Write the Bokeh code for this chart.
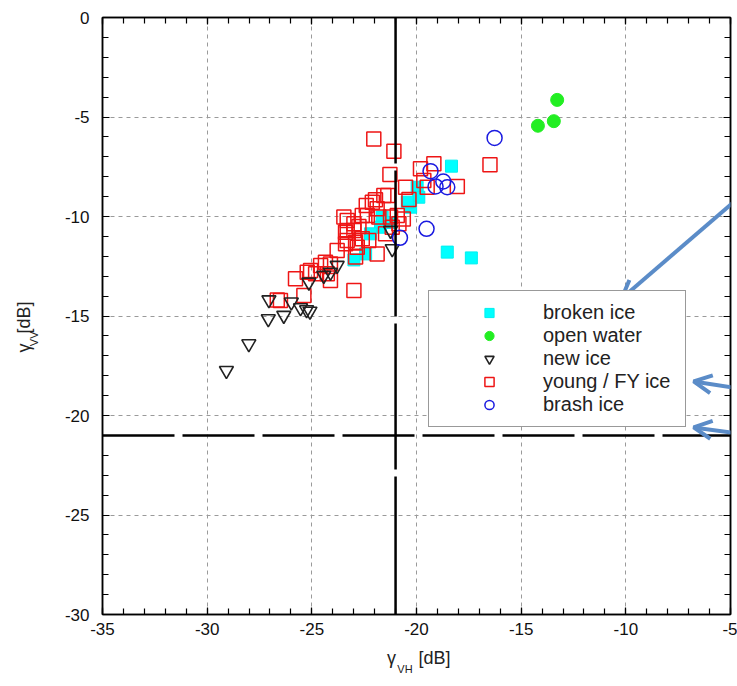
from math import pi
from bokeh.plotting import figure
from bokeh.models import (Range1d, LinearAxis, SingleIntervalTicker, FixedTicker, Legend,
                          LegendItem, Arrow, OpenHead, Span)
from bokeh.embed import file_html
from bokeh.resources import INLINE

# ---------------- data ----------------
broken_x = [-18.33, -18.53, -17.38, -19.97, -19.89, -20.28, -20.44, -21.64, -21.72, -22.20, -22.43, -22.99, -21.30]
broken_y = [-7.47, -11.79, -12.08, -8.53, -9.03, -9.53, -9.28, -10.03, -10.54, -10.87, -11.88, -12.18, -10.30]

water_x = [-13.28, -13.44, -14.20]
water_y = [-4.14, -5.21, -5.44]

new_x = [-29.08, -28.01, -27.08, -26.34, -27.05, -25.98, -25.54, -25.25, -25.09, -25.14,
         -24.43, -24.11, -23.79, -21.16, -21.24]
new_y = [-17.74, -16.40, -15.14, -14.97, -14.19, -14.30, -14.59, -14.69, -14.76, -13.30,
         -12.96, -12.80, -12.46, -11.62, -10.70]

young_x = [-22.04, -21.08, -21.27, -21.56, -21.37, -21.96, -22.11, -22.40, -21.88, -22.35,
           -23.47, -23.31, -22.99, -22.75, -21.24, -20.92, -20.63, -16.49, -19.17, -19.81,
           -19.49, -18.05, -20.52, -20.36, -21.16, -19.65, -21.88, -21.48, -23.39, -21.80,
           -20.84, -23.31, -22.91, -22.59, -22.28, -23.79, -22.91, -24.35, -24.58, -25.06,
           -24.82, -24.11, -25.78, -25.38, -22.99, -26.50, -26.65, -25.22, -23.39, -22.83,
           -24.26, -24.11, -23.31, -22.99, -22.59]
young_y = [-6.10, -6.72, -7.89, -8.94, -8.94, -9.16, -9.28, -9.45, -9.61, -9.95,
           -10.03, -10.20, -10.37, -10.50, -10.03, -9.95, -10.12, -7.40, -7.35, -7.60,
           -8.53, -8.49, -8.53, -9.15, -10.54, -8.19, -11.88, -10.87, -10.79, -10.03,
           -10.37, -11.21, -11.29, -11.12, -11.21, -11.71, -12.04, -12.30, -12.46, -12.71,
           -12.88, -13.22, -13.13, -13.97, -13.72, -14.22, -14.19, -12.80, -11.37, -11.54,
           -12.88, -12.39, -10.70, -10.70, -9.95]

brash_x = [-16.27, -19.33, -19.09, -18.72, -18.53, -19.52, -20.79]
brash_y = [-6.05, -7.72, -8.49, -8.24, -8.53, -10.62, -11.07]

labels = ["broken ice", "open water", "new ice", "young / FY ice", "brash ice"]
threshold_vh = -21
threshold_vv = -21
x_limits = (-35, -5)
y_limits = (-30, 0)
tick_values = list(range(-35, 1, 5))

# axis titles: main symbol, subscript, unit
x_title = ["γ", "VH", "[dB]"]
y_title = ["γ", "VV", "[dB]"]

# slide annotation arrows (tail -> tip), in data units
arrow_tail_x = [-4.66, -4.28, -4.28]
arrow_tail_y = [-9.10, -18.69, -20.95]
arrow_tip_x = [-10.20, -6.76, -6.76]
arrow_tip_y = [-14.12, -18.29, -20.60]

# ---------------- layout ----------------
W, H = 737, 686
LEFT, RIGHT, TOP, BOTTOM = 102, 7, 17, 72
FW, FH = W - LEFT - RIGHT, H - TOP - BOTTOM
FONT = "Liberation Sans"


def px_x(cx):
    return round(x_limits[0] + (cx - LEFT) * (x_limits[1] - x_limits[0]) / FW, 2)


def px_y(cy):
    return round(y_limits[1] - (cy - TOP) * (y_limits[1] - y_limits[0]) / FH, 2)


p = figure(width=W, height=H, output_backend="svg", toolbar_location=None,
           x_range=Range1d(*x_limits), y_range=Range1d(*y_limits),
           min_border_left=LEFT, min_border_right=RIGHT, min_border_top=TOP,
           min_border_bottom=BOTTOM, background_fill_color="white",
           border_fill_color="white")
p.outline_line_color = "black"
p.outline_line_width = 1.5

xt = SingleIntervalTicker(interval=5, num_minor_ticks=5)
yt = SingleIntervalTicker(interval=5, num_minor_ticks=5)


def style_axis(ax, labels_on=True):
    ax.axis_line_color = "black"
    ax.axis_line_width = 1.5
    ax.major_tick_in = 7
    ax.major_tick_out = 0
    ax.minor_tick_in = 6
    ax.minor_tick_out = 0
    ax.major_tick_line_color = "black"
    ax.minor_tick_line_color = "black"
    ax.major_tick_line_width = 1.2
    ax.minor_tick_line_width = 1.2
    ax.major_label_text_font = FONT
    if labels_on:
        ax.major_label_text_color = "#111111"
        ax.major_label_text_font_size = "17px"
        ax.major_label_overrides = {v: str(v) for v in tick_values}
    else:
        ax.major_label_text_color = None
        ax.major_label_text_font_size = "0px"
        ax.major_label_standoff = 0


p.xaxis.ticker = xt
p.yaxis.ticker = yt
style_axis(p.xaxis[0])
style_axis(p.yaxis[0])
p.xaxis.major_label_standoff = 8
p.yaxis.major_label_standoff = 13

top_ax = LinearAxis(ticker=xt)
right_ax = LinearAxis(ticker=yt)
style_axis(top_ax, False)
style_axis(right_ax, False)
p.add_layout(top_ax, "above")
p.add_layout(right_ax, "right")


# axis titles drawn as label-only axes (allows a subscript next to the symbol)
def title_axis(positions, texts, size, standoff, orientation="horizontal"):
    ax = LinearAxis(ticker=FixedTicker(ticks=positions, minor_ticks=[]))
    ax.axis_line_color = None
    ax.major_tick_line_color = None
    ax.minor_tick_line_color = None
    ax.major_tick_in = 0
    ax.major_tick_out = 0
    ax.minor_tick_in = 0
    ax.minor_tick_out = 0
    ax.major_label_overrides = dict(zip(positions, texts))
    ax.major_label_text_font = FONT
    ax.major_label_text_font_size = size
    ax.major_label_text_color = "#222222"
    ax.major_label_standoff = standoff
    ax.major_label_orientation = orientation
    return ax


# x title: "γ" and "[dB]" on one line, subscript "VH" slightly lower
p.add_layout(title_axis([px_x(391), px_x(434)], [x_title[0], x_title[2]], "18px", 10), "below")
p.add_layout(title_axis([px_x(404.5)], [x_title[1]], "11px", -8), "below")
# y title (rotated): subscript axis first (closer to the frame), then symbol + unit
p.add_layout(title_axis([px_y(331)], [y_title[1]], "11px", 27, pi / 2), "left")
p.add_layout(title_axis([px_y(343), px_y(301)], [y_title[0], y_title[2]], "18px", -5, pi / 2), "left")

for g in (p.xgrid, p.ygrid):
    g.grid_line_color = "#9a9a9a"
    g.grid_line_dash = "4 4"
    g.grid_line_width = 1
    g.ticker = xt if g is p.xgrid else yt

# threshold lines
p.add_layout(Span(location=threshold_vh, dimension="height", line_color="black",
                  line_width=2.5, line_dash="146 7"))
p.add_layout(Span(location=threshold_vv, dimension="width", line_color="black",
                  line_width=2.5, line_dash="72 8"))

# ---------------- data glyphs ----------------
r_broken = p.scatter(broken_x, broken_y, marker="square", size=12,
                     fill_color="#00ffff", line_color="#00f0f0")
r_water = p.scatter(water_x, water_y, marker="circle", size=13,
                    fill_color="#22ee22", line_color="#22ee22")
r_young = p.scatter(young_x, young_y, marker="square", size=14, fill_color=None,
                    line_color="#ee1515", line_width=1.5)
r_new = p.scatter(new_x, new_y, marker="inverted_triangle", size=14, fill_color=None,
                  line_color="#222222", line_width=1.6)
r_brash = p.scatter(brash_x, brash_y, marker="circle", size=15, fill_color=None,
                    line_color="#1a1ae0", line_width=1.5)

legend = Legend(items=[LegendItem(label=labels[0], renderers=[r_broken]),
                       LegendItem(label=labels[1], renderers=[r_water]),
                       LegendItem(label=labels[2], renderers=[r_new]),
                       LegendItem(label=labels[3], renderers=[r_young]),
                       LegendItem(label=labels[4], renderers=[r_brash])],
                location=(428 - LEFT, (H - BOTTOM) - 427),
                glyph_width=100, glyph_height=23, spacing=0, padding=10,
                label_standoff=4, label_width=132, label_height=20,
                label_text_font=FONT, label_text_font_size="20px",
                label_text_color="#222222",
                border_line_color="#333333", border_line_width=1.5,
                background_fill_color="white", background_fill_alpha=1.0, margin=0)
p.add_layout(legend)

# ---------------- slide arrows ----------------
for tx, ty, hx, hy in zip(arrow_tail_x, arrow_tail_y, arrow_tip_x, arrow_tip_y):
    p.add_layout(Arrow(x_start=tx, y_start=ty, x_end=hx, y_end=hy,
                       line_color="#5b8cc8", line_width=4, level="overlay",
                       end=OpenHead(size=18, line_color="#5b8cc8", line_width=4)))

open("out.html", "w").write(file_html(p, INLINE))
